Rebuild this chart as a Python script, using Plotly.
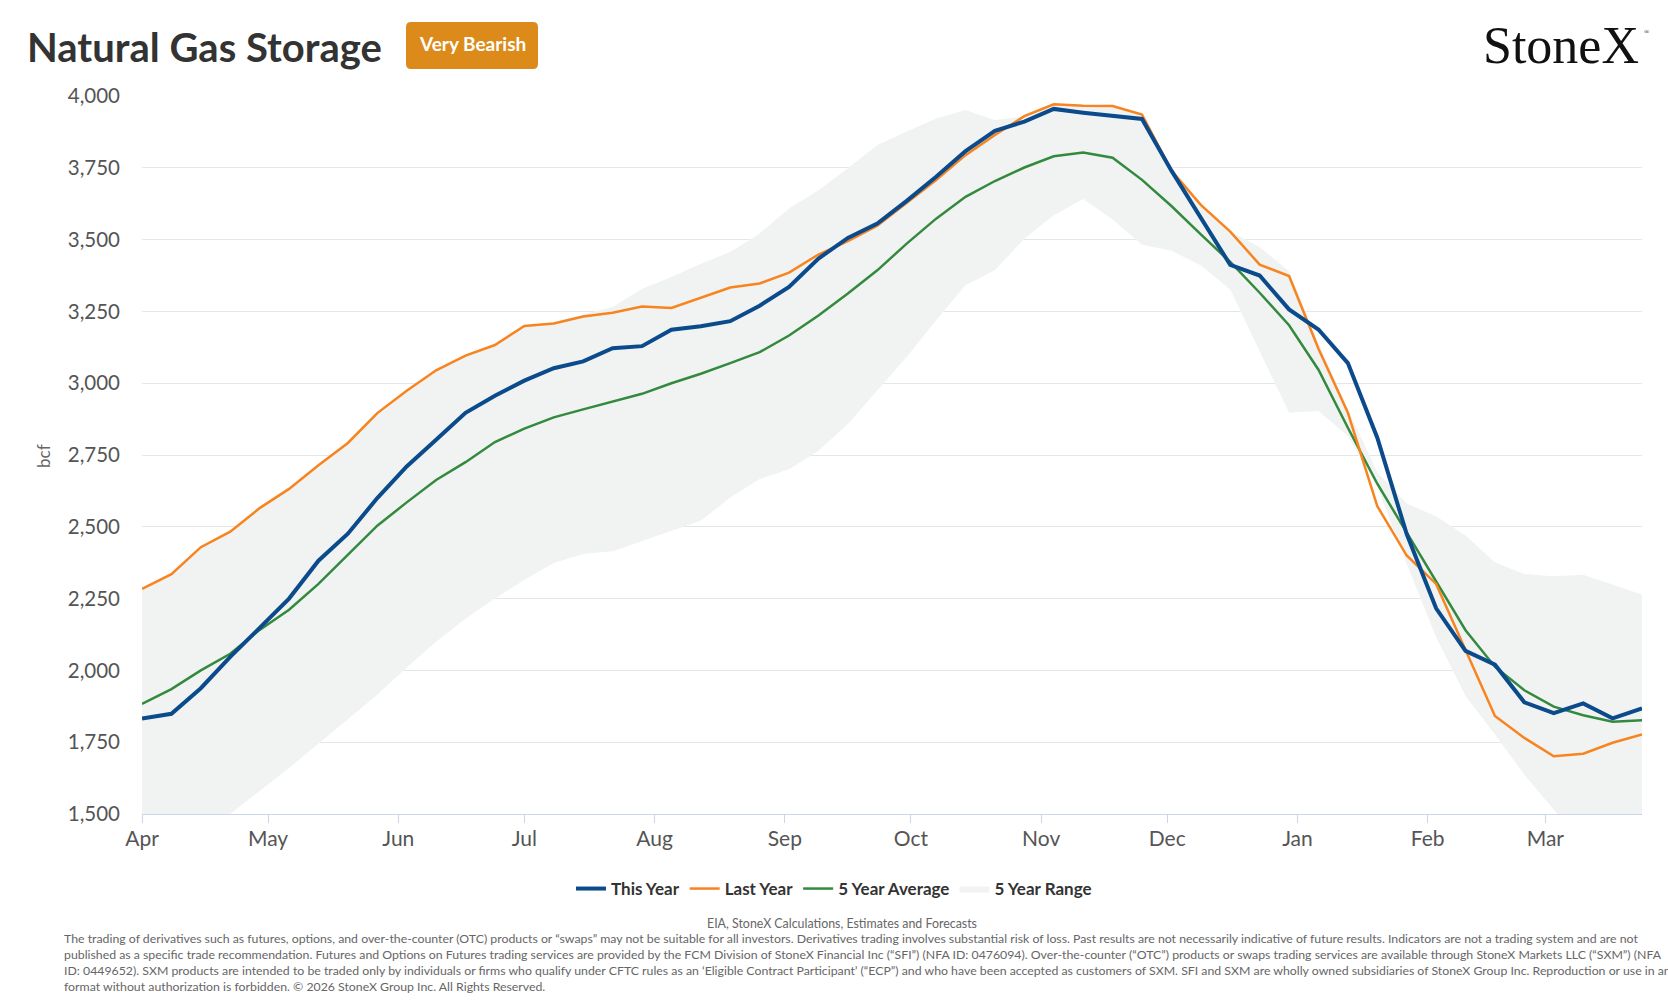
import pandas as pd
import plotly.graph_objects as go

# ---------------------------------------------------------------------------
# weekly storage, bcf, Apr -> Mar
# ---------------------------------------------------------------------------
weeks = pd.date_range("2025-04-01", periods=52, freq="7D")

this_year = [1832, 1849, 1938, 2047, 2148, 2250, 2382, 2476, 2600, 2710,
             2803, 2897, 2956, 3009, 3052, 3076, 3122, 3129, 3186, 3198,
             3216, 3270, 3335, 3434, 3506, 3556, 3635, 3719, 3808, 3879,
             3911, 3955, 3942, 3932, 3920, 3740, 3575, 3412, 3375, 3257,
             3187, 3070, 2810, 2475, 2216, 2068, 2020, 1889, 1851, 1885,
             1833, 1868]

last_year = [2284, 2335, 2429, 2483, 2565, 2632, 2714, 2792, 2896, 2974,
             3045, 3096, 3133, 3199, 3208, 3232, 3245, 3267, 3262, 3298,
             3333, 3347, 3385, 3448, 3495, 3548, 3626, 3707, 3794, 3864,
             3930, 3971, 3966, 3965, 3935, 3740, 3621, 3528, 3413, 3373,
             3120, 2897, 2572, 2400, 2301, 2074, 1841, 1765, 1701, 1710,
             1748, 1777]

five_yr_avg = [1883, 1935, 2000, 2058, 2141, 2211, 2301, 2401, 2504, 2585,
               2663, 2725, 2795, 2842, 2881, 2909, 2935, 2963, 3000, 3033,
               3070, 3108, 3166, 3236, 3312, 3393, 3486, 3573, 3649, 3704,
               3751, 3790, 3803, 3785, 3708, 3617, 3518, 3422, 3315, 3202,
               3047, 2845, 2650, 2480, 2310, 2140, 2013, 1931, 1874, 1844,
               1821, 1826]

five_yr_max = [2284, 2335, 2429, 2483, 2565, 2632, 2714, 2792, 2896, 2974,
               3045, 3096, 3133, 3199, 3212, 3240, 3265, 3329, 3370, 3416,
               3457, 3521, 3608, 3672, 3748, 3829, 3876, 3922, 3951, 3916,
               3930, 3971, 3966, 3965, 3935, 3745, 3621, 3528, 3474, 3390,
               3140, 2910, 2690, 2581, 2537, 2470, 2377, 2336, 2328, 2333,
               2299, 2264]

five_yr_min = [1280, 1350, 1425, 1500, 1580, 1660, 1745, 1830, 1915, 2010,
               2100, 2180, 2250, 2315, 2374, 2405, 2415, 2451, 2486, 2521,
               2602, 2666, 2700, 2765, 2858, 2974, 3091, 3219, 3341, 3393,
               3503, 3585, 3641, 3570, 3482, 3461, 3410, 3326, 3111, 2897,
               2903, 2816, 2640, 2371, 2115, 1911, 1777, 1637, 1515, 1400,
               1300, 1200]

disclaimer = [
    "The trading of derivatives such as futures, options, and over-the-counter (OTC) products or \u201cswaps\u201d may not be suitable for all investors. Derivatives trading involves substantial risk of loss. Past results are not necessarily indicative of future results. Indicators are not a trading system and are not",
    "published as a specific trade recommendation. Futures and Options on Futures trading services are provided by the FCM Division of StoneX Financial Inc (\u201cSFI\u201d) (NFA ID: 0476094). Over-the-counter (\u201cOTC\u201d) products or swaps trading services are available through StoneX Markets LLC (\u201cSXM\u201d) (NFA",
    "ID: 0449652). SXM products are intended to be traded only by individuals or firms who qualify under CFTC rules as an \u2018Eligible Contract Participant\u2019 (\u201cECP\u201d) and who have been accepted as customers of SXM. SFI and SXM are wholly owned subsidiaries of StoneX Group Inc. Reproduction or use in any",
    "format without authorization is forbidden. \u00a9 2026 StoneX Group Inc. All Rights Reserved.",
]

# page geometry (px)
W, H = 1668, 1001
L, R, T, B = 142, 26, 96, 187
PW, PH = W - L - R, H - T - B
FONT = "Lato"


def px(x):
    return (x - L) / PW


def py(y):
    return (H - B - y) / PH


def rounded_rect(x0, y0, x1, y1, r):
    # path in paper coords, corners given in page px
    return ("M {a},{b} L {c},{b} Q {d},{b} {d},{e} L {d},{f} Q {d},{g} {c},{g} "
            "L {a},{g} Q {h},{g} {h},{f} L {h},{e} Q {h},{b} {a},{b} Z").format(
        a=px(x0 + r), b=py(y0), c=px(x1 - r), d=px(x1), e=py(y0 + r),
        f=py(y1 - r), g=py(y1), h=px(x0))


fig = go.Figure()

# 5 year range band (drawn first so it sits under the lines)
fig.add_trace(go.Scatter(
    x=list(weeks) + list(weeks[::-1]),
    y=five_yr_max + five_yr_min[::-1],
    fill="toself", fillcolor="#f1f3f2", line=dict(width=0),
    mode="lines", name="5 Year Range", legendrank=4, hoverinfo="skip"))

fig.add_trace(go.Scatter(x=weeks, y=five_yr_avg, mode="lines", name="5 Year Average",
                         line=dict(color="#338a3e", width=2.5), legendrank=3))
fig.add_trace(go.Scatter(x=weeks, y=last_year, mode="lines", name="Last Year",
                         line=dict(color="#f7841f", width=2.5), legendrank=2))
fig.add_trace(go.Scatter(x=weeks, y=this_year, mode="lines", name="This Year",
                         line=dict(color="#0b4a8b", width=4), legendrank=1))

fig.update_layout(
    width=W, height=H,
    margin=dict(l=L, r=R, t=T, b=B),
    paper_bgcolor="white", plot_bgcolor="white",
    font=dict(family=FONT, color="#333333"),
    showlegend=True,
    legend=dict(orientation="h", xref="container", yref="container",
                x=0.5, xanchor="center", y=1 - 889 / H, yanchor="middle",
                font=dict(size=17, color="#333333", weight="bold"),
                itemwidth=30, traceorder="normal"),
    xaxis=dict(
        range=[weeks[0], weeks[-1]],
        tickformat="%b", dtick="M1", tick0="2025-04-01",
        showgrid=False, zeroline=False,
        showline=True, linecolor="#ccd6eb", linewidth=1,
        ticks="outside", ticklen=8, tickcolor="#ccd6eb",
        ticklabelstandoff=-2,
        tickfont=dict(size=21, color="#555555"),
    ),
    yaxis=dict(
        range=[1500, 4000], dtick=250, tickformat=",d",
        showgrid=True, gridcolor="#e6e6e6", gridwidth=1,
        zeroline=False, showline=False,
        ticklabelstandoff=21,
        tickfont=dict(size=20.5, color="#555555"),
    ),
)

# badge behind "Very Bearish"
fig.add_shape(type="path", xref="paper", yref="paper",
              path=rounded_rect(406, 22, 538, 69, 5),
              fillcolor="#dc8b1b", line=dict(width=0), layer="above")

annotations = [
    dict(text="<b>Natural Gas Storage</b>", x=px(25), y=py(47), xanchor="left",
         yanchor="middle", font=dict(size=40, color="#333333")),
    dict(text="<b>Very Bearish</b>", x=px(472), y=py(44), xanchor="center",
         yanchor="middle", font=dict(size=19, color="white")),
    dict(text="StoneX", x=px(1641), y=py(46), xanchor="right", yanchor="middle",
         font=dict(family="Liberation Serif", size=52, color="#111111")),
    dict(text="\u00ae", x=px(1642), y=py(32), xanchor="left", yanchor="middle",
         font=dict(family="Liberation Serif", size=7, color="#111111")),
    dict(text="bcf", x=px(43), y=py(456), xanchor="center", yanchor="middle",
         textangle=-90, font=dict(size=17, color="#666666")),
    dict(text="EIA, StoneX Calculations, Estimates and Forecasts", x=px(842),
         y=py(923), xanchor="center", yanchor="middle",
         font=dict(size=12.4, color="#666666")),
    dict(text="<br>".join(disclaimer), x=px(62), y=py(929), xanchor="left",
         yanchor="top", align="left", font=dict(size=12.3, color="#666666")),
]
for a in annotations:
    fig.add_annotation(xref="paper", yref="paper", showarrow=False, **a)

# drop the browser's default body margin so the figure sits at the page corner
fig.write_html("out.html", config={"displayModeBar": False},
               post_script="document.body.style.margin='0';")
